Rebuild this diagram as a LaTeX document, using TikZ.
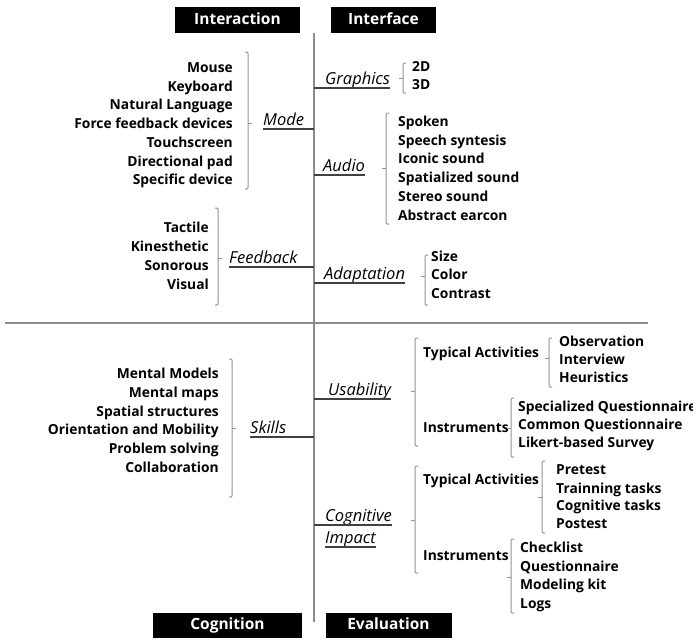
\documentclass[tikz,border=0pt]{standalone}
\usepackage{fontspec}
\setmainfont{Open Sans}
\begin{document}
\begin{tikzpicture}[x=1pt,y=-1pt,
  hdr/.style={shape=rectangle,fill=black,text=white,inner sep=0,minimum height=26,text height=11.5pt,text depth=3.5pt,font=\bfseries\fontsize{15.5}{16}\selectfont},
  item/.style={inner sep=0,font=\bfseries\fontsize{13.8}{16}\selectfont},
  lbl/.style={inner sep=0,text depth=3.5pt,font=\itshape\fontsize{16.5}{18}\selectfont},
  brk/.style={draw=gray!85,line width=1pt,rounded corners=1.2pt},
  uline/.style={draw=black!75,line width=1.3pt},
  axis/.style={draw=black!45,line width=1.6pt}]
\useasboundingbox (0,0) rectangle (693,638);

% the two axes
\coordinate (spine) at (314,33);
\coordinate (spineend) at (314,622);
\coordinate (hl) at (5,323);
\coordinate (hr) at (648,323);
\draw[axis] (spine) -- (spineend);
\draw[axis] (hl) -- (hr);

% quadrant titles
\node[hdr,minimum width=125] (interaction) at (237.5,20) {Interaction};
\node[hdr,minimum width=105] (interface) at (383.5,20) {Interface};
\node[hdr,minimum width=149,minimum height=25] (cognition) at (227.5,625.5) {Cognition};
\node[hdr,minimum width=126,minimum height=25] (evaluation) at (388.5,625.5) {Evaluation};

% Interaction
\node[lbl,anchor=south west] (mode) at (263,129) {Mode};
\draw[uline] (mode.south west) -- (mode.south west -| spine);
\draw[brk] (245,52) -- (248,52) -- (248,189) -- (245,189);
\draw[brk] (248,123) -- (252,123);
\node[item,anchor=base east] (mouse) at (233,72) {Mouse};
\node[item,anchor=base east] (keyboard) at (233,91) {Keyboard};
\node[item,anchor=base east] (natlang) at (233,109.5) {Natural Language};
\node[item,anchor=base east] (force) at (233,128) {Force feedback devices};
\node[item,anchor=base east] (touch) at (233,147) {Touchscreen};
\node[item,anchor=base east] (dpad) at (233,166) {Directional pad};
\node[item,anchor=base east] (specific) at (233,184) {Specific device};

\node[lbl,anchor=south west] (feedback) at (229,267) {Feedback};
\draw[uline] (feedback.south west) -- (feedback.south west -| spine);
\draw[brk] (215,208) -- (218,208) -- (218,305) -- (215,305);
\draw[brk] (218,258) -- (222,258);
\node[item,anchor=base east] (tactile) at (209,232) {Tactile};
\node[item,anchor=base east] (kines) at (209,251.5) {Kinesthetic};
\node[item,anchor=base east] (sonorous) at (209,270) {Sonorous};
\node[item,anchor=base east] (visual) at (209,289) {Visual};

% Interface
\node[lbl,anchor=south west] (graphics) at (325,88) {Graphics};
\draw[uline] (graphics.south east) -- (graphics.south east -| spine);
\draw[brk] (406,63) -- (403,63) -- (403,93) -- (406,93);
\draw[brk] (403,78) -- (399,78);
\node[item,anchor=base west] (twod) at (412,71) {2D};
\node[item,anchor=base west] (threed) at (412,89.5) {3D};

\node[lbl,anchor=south west] (audio) at (323,175) {Audio};
\draw[uline] (audio.south east) -- (audio.south east -| spine);
\draw[brk] (389,113) -- (386,113) -- (386,224) -- (389,224);
\draw[brk] (386,168) -- (382,168);
\node[item,anchor=base west] (spoken) at (398,126) {Spoken};
\node[item,anchor=base west] (speech) at (398,145) {Speech syntesis};
\node[item,anchor=base west] (iconic) at (398,163.5) {Iconic sound};
\node[item,anchor=base west] (spatsound) at (398,182) {Spatialized sound};
\node[item,anchor=base west] (stereo) at (398,201) {Stereo sound};
\node[item,anchor=base west] (earcon) at (398,220) {Abstract earcon};

\node[lbl,anchor=south west] (adaptation) at (324,283) {Adaptation};
\draw[uline] (adaptation.south east) -- (adaptation.south east -| spine);
\draw[brk] (428,255) -- (425,255) -- (425,305) -- (428,305);
\draw[brk] (425,276) -- (421,276);
\node[item,anchor=base west] (size) at (431,261) {Size};
\node[item,anchor=base west] (color) at (431,279.5) {Color};
\node[item,anchor=base west] (contrast) at (431,298) {Contrast};

% Cognition
\node[lbl,anchor=south west] (skills) at (250,437) {Skills};
\draw[uline] (skills.south west) -- (skills.south west -| spine);
\draw[brk] (229,359) -- (232,359) -- (232,497) -- (229,497);
\draw[brk] (232,428) -- (236,428);
\node[item,anchor=base east] (mmodels) at (219,378) {Mental Models};
\node[item,anchor=base east] (mmaps) at (219,397) {Mental maps};
\node[item,anchor=base east] (spatial) at (219,416) {Spatial structures};
\node[item,anchor=base east] (orient) at (219,434.5) {Orientation and Mobility};
\node[item,anchor=base east] (problem) at (219,453) {Problem solving};
\node[item,anchor=base east] (collab) at (219,472) {Collaboration};

% Evaluation
\node[lbl,anchor=south west] (usability) at (328,399) {Usability};
\draw[uline] (usability.south east) -- (usability.south east -| spine);
\draw[brk] (418,338) -- (415,338) -- (415,446) -- (418,446);
\draw[brk] (415,391) -- (411,391);
\node[item,anchor=base west] (typact) at (423,357) {Typical Activities};
\node[item,anchor=base west] (instr) at (423,432) {Instruments};
\draw[brk] (552,338) -- (549,338) -- (549,387) -- (552,387);
\draw[brk] (549,358) -- (545,358);
\node[item,anchor=base west] (observ) at (559,346) {Observation};
\node[item,anchor=base west] (interview) at (559,364) {Interview};
\node[item,anchor=base west] (heur) at (559,382) {Heuristics};
\draw[brk] (514,398) -- (511,398) -- (511,457) -- (514,457);
\draw[brk] (511,428) -- (507,428);
\node[item,anchor=base west] (specq) at (518,411) {Specialized Questionnaire};
\node[item,anchor=base west] (commq) at (518,429) {Common Questionnaire};
\node[item,anchor=base west] (likert) at (518,447) {Likert-based Survey};

\node[lbl,anchor=south west] (cogimp) at (325,525) {Cognitive};
\node[lbl,anchor=south west] (impact) at (325,547) {Impact};
\draw[uline] (cogimp.south east) -- (cogimp.south east -| spine);
\draw[uline] (impact.south west) -- (impact.south east);
\draw[brk] (418,466) -- (415,466) -- (415,573) -- (418,573);
\draw[brk] (415,520) -- (411,520);
\node[item,anchor=base west] (typact2) at (423,484) {Typical Activities};
\node[item,anchor=base west] (instr2) at (423,560) {Instruments};
\draw[brk] (545,461) -- (542,461) -- (542,533) -- (545,533);
\draw[brk] (542,497) -- (538,497);
\node[item,anchor=base west] (pretest) at (556,474) {Pretest};
\node[item,anchor=base west] (training) at (556,493) {Trainning tasks};
\node[item,anchor=base west] (cogtasks) at (556,510.5) {Cognitive tasks};
\node[item,anchor=base west] (postest) at (556,528) {Postest};
\draw[brk] (514,539) -- (511,539) -- (511,613) -- (514,613);
\draw[brk] (511,577) -- (507,577);
\node[item,anchor=base west] (checklist) at (520,552) {Checklist};
\node[item,anchor=base west] (quest) at (520,571) {Questionnaire};
\node[item,anchor=base west] (modkit) at (520,589) {Modeling kit};
\node[item,anchor=base west] (logs) at (520,608) {Logs};
\end{tikzpicture}
\end{document}
